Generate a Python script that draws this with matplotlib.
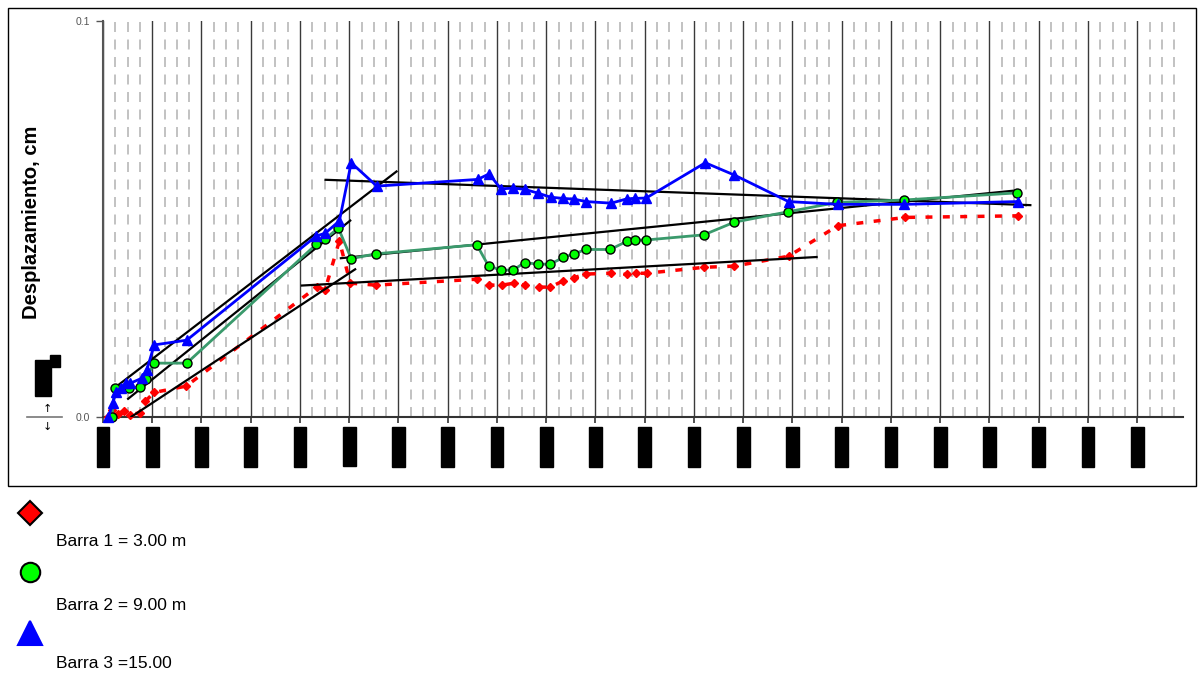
import matplotlib.pyplot as plt
from matplotlib.lines import Line2D
from matplotlib.patches import Rectangle

# lecturas (x en intervalos de la rejilla principal, y en cm)
barra1_x = [0.11, 0.18, 0.31, 0.42, 0.54, 0.75, 0.86, 1.04, 1.69, 4.34, 4.51, 4.80, 5.02, 5.54,
            7.59, 7.84, 8.10, 8.35, 8.57, 8.85, 9.08, 9.35, 9.57, 9.80, 10.31, 10.64, 10.82, 11.04,
            12.20, 12.82, 13.92, 14.92, 16.29, 18.57]
barra1_y = [0.0, 0.0018, 0.0008, 0.0015, 0.0005, 0.0011, 0.0040, 0.0062, 0.0078, 0.0328, 0.0321,
            0.0445, 0.0338, 0.0333, 0.0348, 0.0333, 0.0333, 0.0338, 0.0333, 0.0328, 0.0328, 0.0344,
            0.0352, 0.0361, 0.0363, 0.0360, 0.0363, 0.0363, 0.0378, 0.0381, 0.0406, 0.0483, 0.0504,
            0.0508]

barra2_x = [0.18, 0.24, 0.53, 0.75, 0.87, 1.04, 1.70, 4.33, 4.51, 4.78, 5.04, 5.54, 7.59, 7.83,
            8.09, 8.33, 8.56, 8.83, 9.08, 9.35, 9.57, 9.80, 10.30, 10.64, 10.81, 11.03, 12.20, 12.82,
            13.90, 14.91, 16.27, 18.56]
barra2_y = [0.0, 0.0074, 0.0073, 0.0075, 0.0097, 0.0136, 0.0136, 0.0436, 0.0450, 0.0477, 0.0400,
            0.0412, 0.0435, 0.0381, 0.0371, 0.0371, 0.0390, 0.0386, 0.0386, 0.0403, 0.0412, 0.0423,
            0.0423, 0.0444, 0.0447, 0.0447, 0.0460, 0.0492, 0.0518, 0.0542, 0.0548, 0.0566]

barra3_x = [0.11, 0.20, 0.26, 0.37, 0.47, 0.55, 0.79, 0.89, 1.04, 1.70, 4.33, 4.51, 4.80, 5.04,
            5.56, 7.61, 7.84, 8.08, 8.33, 8.56, 8.84, 9.09, 9.35, 9.57, 9.81, 10.32, 10.64, 10.80,
            11.03, 12.23, 12.82, 13.92, 14.92, 16.27, 18.57]
barra3_y = [0.0, 0.0035, 0.0064, 0.0074, 0.0087, 0.0085, 0.0098, 0.0119, 0.0182, 0.0194, 0.0457,
            0.0464, 0.0495, 0.0642, 0.0583, 0.0600, 0.0614, 0.0576, 0.0578, 0.0575, 0.0565, 0.0555,
            0.0552, 0.0550, 0.0544, 0.0540, 0.0551, 0.0552, 0.0553, 0.0642, 0.0611, 0.0544, 0.0537,
            0.0537, 0.0544]

# tendencias trazadas a mano (inicio, fin)
tend_x = [(0.23, 5.96), (0.51, 5.02), (0.58, 5.12), (4.52, 18.83), (4.83, 18.61), (4.04, 14.49)]
tend_y = [(0.0073, 0.0620), (0.0046, 0.0496), (0.0001, 0.0373), (0.0599, 0.0535),
          (0.0401, 0.0573), (0.0332, 0.0404)]

fechas = ["07/01/20", "14/01/20", "21/01/20", "28/01/20", "04/02/20", "11/02/20", "18/02/20",
          "25/02/20", "03/03/20", "10/03/20", "17/03/20", "24/03/20", "31/03/20", "07/04/20",
          "14/04/20", "21/04/20", "28/04/20", "05/05/20", "12/05/20", "19/05/20", "26/05/20",
          "02/06/20"]

leyenda = ["Barra 1 = 3.00 m", "Barra 2 = 9.00 m", "Barra 3 =15.00"]

narrow = ["Liberation Sans Narrow", "Liberation Sans", "DejaVu Sans"]
W, H = 1204, 674


def fx(px):
    return px / W


def fy(py):
    return 1 - py / H


fig = plt.figure(figsize=(W / 100, H / 100), dpi=100)
fig.add_artist(Rectangle((fx(8), fy(486)), fx(1188), 478 / H, transform=fig.transFigure,
                         fill=False, edgecolor="black", lw=1))

ax = fig.add_axes([fx(103), fy(417), fx(1183 - 103), (417 - 21) / H])
ax.set_xlim(0, 21.93)
ax.set_ylim(0, 0.1)

# rejilla vertical
for i in range(22):
    ax.axvline(i, color="#3a3a3a", lw=1, zorder=1)
    for k in (0.25, 0.5, 0.75):
        if i + k < 21.93:
            ax.axvline(i + k, color="#b8b8b8", lw=1.2, dashes=(6, 4.5), zorder=1)

for xs, ys in zip(tend_x, tend_y):
    ax.plot(xs, ys, color="black", lw=1.6, zorder=4)

ax.plot(barra1_x, barra1_y, color="red", lw=2.5, dashes=(2, 3), marker="D", markersize=4.5,
        markerfacecolor="red", markeredgecolor="red", clip_on=False, zorder=3)
ax.plot(barra2_x, barra2_y, color="#3a9a6c", lw=2, marker="o", markersize=6.5,
        markerfacecolor="#00ff00", markeredgecolor="black", markeredgewidth=1, clip_on=False,
        zorder=5)
ax.plot(barra3_x, barra3_y, color="#0000ff", lw=2, marker="^", markersize=7.5,
        markerfacecolor="#0000ff", markeredgecolor="#0000ff", clip_on=False, zorder=6)

for side in ("top", "right"):
    ax.spines[side].set_visible(False)
ax.spines["left"].set_color("#555555")
ax.spines["left"].set_linewidth(1.5)
ax.spines["bottom"].set_color("#333333")
ax.spines["bottom"].set_linewidth(1.5)

ax.set_yticks([0.0, 0.1])
ax.set_yticklabels(["0.0", "0.1"], color="#555555", fontsize=7.5, family=narrow)
ax.tick_params(axis="y", length=5, width=1, color="#555555", pad=4)

# etiquetas de fecha (tapadas en negro en el original)
ax.set_xticks(range(22))
ax.set_xticklabels(fechas, rotation=90, fontsize=7, color="black", family=narrow,
                   va="top", ha="center")
for t in ax.get_xticklabels():
    t.set_bbox(dict(facecolor="black", edgecolor="black", pad=1.0))
ax.tick_params(axis="x", length=4, width=1.2, color="#333333", pad=4)

fig.text(fx(32), fy(222), "Desplazamiento, cm", rotation=90, ha="center", va="center",
         fontsize=14.5, fontweight="bold", family=["Liberation Sans", "DejaVu Sans"])

# indicador del eje y (texto tapado en el original)
fig.text(fx(43), fy(378), "Fecha", rotation=90, ha="center", va="center", fontsize=8.5,
         color="black", family=narrow, bbox=dict(facecolor="black", edgecolor="black", pad=1.2))
fig.text(fx(55), fy(361), "+", ha="center", va="center", fontsize=7, color="black",
         bbox=dict(facecolor="black", edgecolor="black", pad=0.8))
fig.add_artist(Line2D([fx(27), fx(62)], [fy(417), fy(417)], transform=fig.transFigure,
                      color="#777777", lw=1.2))
fig.text(fx(47), fy(409), "↑", ha="center", va="center", fontsize=8, family="DejaVu Sans")
fig.text(fx(47), fy(427), "↓", ha="center", va="center", fontsize=8, family="DejaVu Sans")

# leyenda
simbolos = [("D", "red", 12, "black", 513), ("o", "#00ff00", 14, "black", 572),
            ("^", "#0000ff", 17, "#0000ff", 633)]
for (m, c, ms, ec, py), txt, ty in zip(simbolos, leyenda, (542, 605, 663)):
    fig.add_artist(Line2D([fx(30)], [fy(py)], transform=fig.transFigure, marker=m,
                          markersize=ms, markerfacecolor=c, markeredgecolor=ec,
                          markeredgewidth=1.5, linestyle="none"))
    fig.text(fx(56), fy(ty), txt, ha="left", va="center", fontsize=12.5, family=narrow)

fig.savefig("out.png", dpi=100)
